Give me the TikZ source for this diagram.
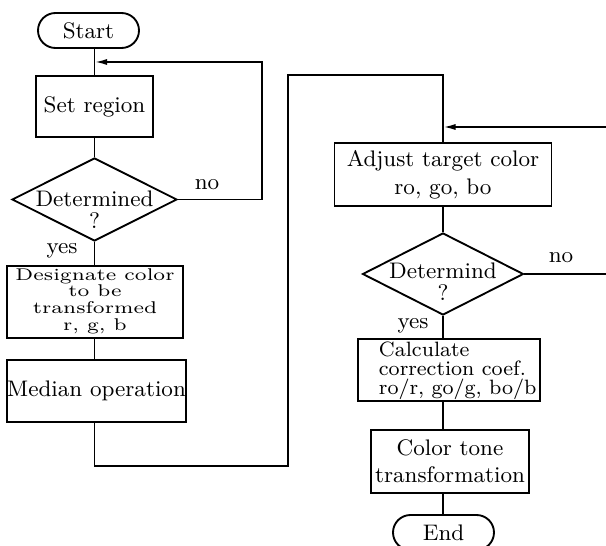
\documentclass[tikz,border=0pt]{standalone}
\usepackage{fontspec}
\usepackage{graphicx}
\usetikzlibrary{shapes.geometric,arrows.meta}
\newlength\px
\setlength\px{0.4pt}

\begin{document}
\begin{tikzpicture}[x=0.4pt, y=-0.4pt, line width=0.75pt,
  every node/.style={inner sep=0pt, font=\fontsize{9}{11}\selectfont},
  process/.style={draw, rectangle, align=center},
  terminal/.style={draw, rectangle, rounded corners=7pt, minimum width=101\px, minimum height=35\px},
  decision/.style={draw, diamond},
  lbl/.style={font=\fontsize{9}{11}\selectfont},
  arr/.style={-{Latex[length=5pt, width=2.4pt]}}]
  \useasboundingbox (0,0) rectangle (606,546);
  % Left column
  \node[terminal] (start) at (88.5,30.5) {Start};
  \node[process, minimum width=117\px, minimum height=61\px] (setreg) at (94.5,106.5) {Set region};
  % First decision (text set on its own, it runs over the diamond)
  \node[decision, minimum width=165\px, minimum height=83\px] (det1) at (94.5,199.5) {};
  \node[align=center, font=\fontsize{9}{8.8}\selectfont] (det1txt) at (94.5,210) {Determined\\?};
  \node[lbl] (no1) at (207,185) {no};
  \node[lbl] (yes1) at (62,251) {yes};
  % small, widely spaced text
  \node[process, minimum width=176\px, minimum height=72\px, font=\fontsize{6.8}{6.7}\selectfont] (desig) at (95,302)
    {\scalebox{1.22}[1]{\begin{tabular}{@{}c@{}}Designate color\\to be\\transformed\\r, g, b\end{tabular}}};
  \node[process, minimum width=175\px, minimum height=62\px] (median) at (96.5,391) {Median operation};
  % Left column connectors
  \draw (start.south -| setreg.north) -- (setreg.north);
  \draw (setreg) -- (det1);
  \draw (det1) -- (desig.north -| det1.south);
  \draw (desig.south -| det1.south) -- (median.north -| det1.south);
  % Loop back when not determined
  \coordinate (loop1) at (262,62);
  \draw[arr] (det1.east) -| (loop1) -- (setreg.north |- loop1);
  % Right column
  \node[process, minimum width=217\px, minimum height=63\px, font=\fontsize{9}{11.2}\selectfont] (adjust) at (443,174.5)
    {Adjust target color\\ro, go, bo};
  \node[decision, minimum width=161\px, minimum height=82\px] (det2) at (443,274) {};
  \node[align=center, font=\fontsize{9}{8.8}\selectfont] (det2txt) at (443,282) {Determind\\?};
  \node[lbl] (no2) at (561,258) {no};
  \node[lbl] (yes2) at (413,326) {yes};
  % Box and its left set text
  \node[process, minimum width=182\px, minimum height=62\px] (calc) at (449,370) {};
  \node[anchor=west, align=left, font=\fontsize{8.3}{7.6}\selectfont] (calctxt) at (378,371)
    {Calculate\\correction coef.\\ro/r, go/g, bo/b};
  \node[process, minimum width=158\px, minimum height=63\px, font=\fontsize{9}{10.8}\selectfont] (tone) at (450,461.5)
    {Color tone\\transformation};
  \node[terminal] (end) at (443.5,532.5) {End};
  % Link from left column to right column
  \coordinate (low) at (288,466);
  \coordinate (high) at (443,75);
  \draw (median.south -| det1.south) |- (low) |- (high) -- (adjust.north);
  % Return from the right
  \coordinate (from2) at (606,127);
  \draw[arr] (from2) -- (adjust.north |- from2);
  \coordinate (to2) at (606,274);
  \draw (det2.east) -- (to2);
  % Right column connectors
  \draw (adjust) -- (det2);
  \draw (det2.south) -- (det2.south |- calc.north);
  \draw (calc.south -| det2.south) -- (tone.north -| det2.south);
  \draw (tone.south -| det2.south) -- (end.north -| det2.south);
\end{tikzpicture}
\end{document}
